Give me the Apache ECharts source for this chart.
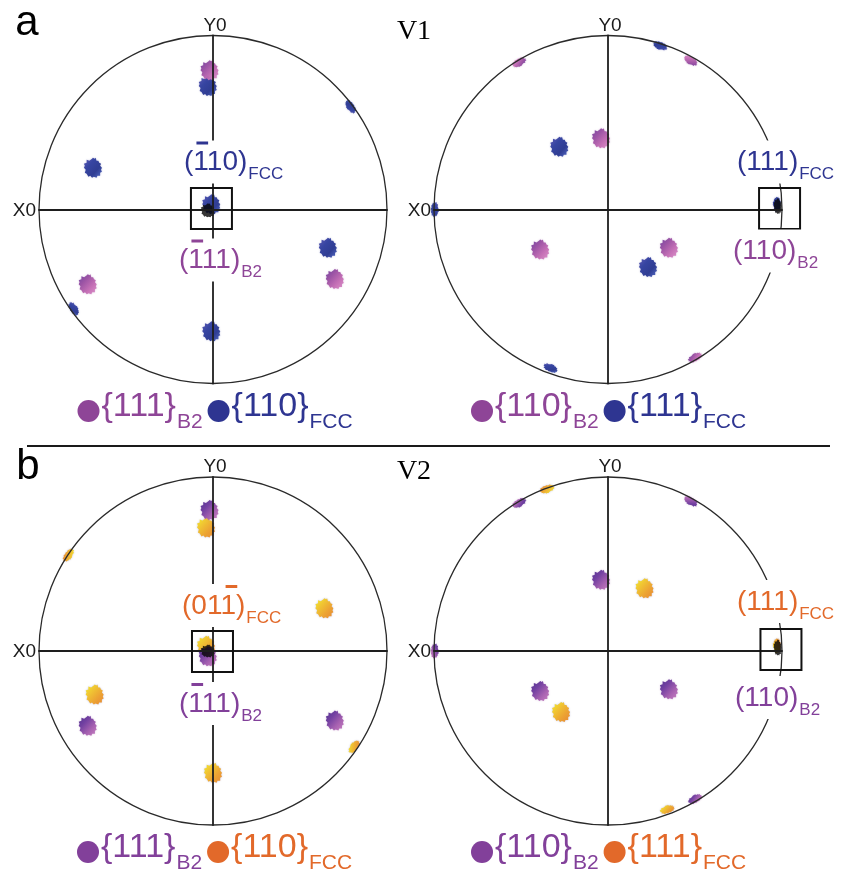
<!DOCTYPE html>
<html>
<head>
<meta charset="utf-8">
<script src="https://cdn.jsdelivr.net/npm/echarts@6/dist/echarts.min.js"></script>
<style>
  html, body { margin: 0; padding: 0; background: #fff; }
  #chart { width: 842px; height: 875px; }
</style>
</head>
<body>
<div id="chart"></div>
<script>
// Pole positions in stereographic units (projection circle radius = 1), [x, y]

// (a) V1 — {111}B2 / {110}FCC pole figure
const aLeftB2 = [[-0.02, 0.80], [0.70, -0.40], [-0.72, -0.43]];
const aLeftFcc = [[-0.03, 0.71], [0.79, 0.59], [-0.69, 0.24], [-0.01, 0.03], [0.66, -0.22], [-0.80, -0.57], [-0.01, -0.70]];
const aLeftCore = [[-0.03, -0.005]];

// (a) V1 — {110}B2 / {111}FCC pole figure
const aRightB2 = [[0.475, 0.855], [-0.51, 0.845], [-0.04, 0.41], [-0.39, -0.23], [0.35, -0.22], [0.50, -0.85]];
const aRightFcc = [[0.30, 0.94], [-0.28, 0.36], [-0.995, 0.0], [0.23, -0.33], [-0.33, -0.91], [0.97, 0.03]];
const aRightCore = [[0.975, 0.02]];

// (b) V2 — {111}B2 / {110}FCC pole figure
const bLeftB2 = [[-0.02, 0.81], [-0.72, -0.43], [0.70, -0.40], [-0.03, -0.03]];
const bLeftFcc = [[-0.04, 0.71], [-0.83, 0.55], [0.64, 0.245], [-0.68, -0.25], [0.81, -0.55], [0.0, -0.70], [-0.04, 0.03]];
const bLeftCore = [[-0.03, 0.0]];

// (b) V2 — {110}B2 / {111}FCC pole figure
const bRightB2 = [[-0.51, 0.85], [0.475, 0.86], [-0.04, 0.41], [-0.995, 0.0], [-0.39, -0.23], [0.35, -0.22], [0.50, -0.85]];
const bRightFcc = [[-0.35, 0.93], [0.21, 0.36], [-0.27, -0.35], [0.34, -0.91], [0.97, 0.03]];
const bRightCore = [[0.975, 0.02]];

// Highlighted parallel poles (boxed), in stereographic units
const boxCenters = [[-0.009, 0.006], [0.986, 0.006], [-0.003, -0.003], [0.994, 0.009]];

// Legend entries: [text, subscript] per phase
const legendA1 = [['{111}', 'B2'], ['{110}', 'FCC']];
const legendA2 = [['{110}', 'B2'], ['{111}', 'FCC']];
const legendB1 = [['{111}', 'B2'], ['{110}', 'FCC']];
const legendB2 = [['{110}', 'B2'], ['{111}', 'FCC']];

// Plane annotations: main text, subscript, indices of barred digits
const planeA1 = [['(110)', 'FCC', [1]], ['(111)', 'B2', [1]]];
const planeA2 = [['(111)', 'FCC', []], ['(110)', 'B2', []]];
const planeB1 = [['(011)', 'FCC', [3]], ['(111)', 'B2', [1]]];
const planeB2 = [['(111)', 'FCC', []], ['(110)', 'B2', []]];

const FONT = '"Liberation Sans", Arial, Helvetica, sans-serif';
const R = 174;
const BLUE = '#2e3591', PURPLE = '#8e4597', VIOLET = '#82409a', ORANGE = '#e2692a';

const grad = (stops) => new echarts.graphic.LinearGradient(0, 0, 1, 1,
  stops.map((c, i) => ({ offset: i / (stops.length - 1), color: c })));

const fillBlue = () => grad(['#5a55b4', '#2f3e9e', '#28368f', '#4d66c4']);
const fillPurple = () => grad(['#6c3c9e', '#9a4fa2', '#c46cb4', '#dc90c8']);
const fillYellow = () => grad(['#f4ee20', '#f2c42a', '#eea02a', '#e8862c']);
const fillViolet = () => grad(['#4a2a8e', '#6e3a9e', '#a45cae', '#c87cc0']);

// ragged outline for a cluster of pole hits
const BLOB = 'path://M9,1 L10,0 L12,1 L13,0 L14,3 L16,3 L17,5 L19,6 L18,8 L20,10 L19,12 L20,14 L18,15 L18,18 L15,18 L14,20 L11,19 L9,20 L7,18 L5,19 L3,16 L1,15 L2,12 L0,10 L1,8 L0,6 L3,5 L3,2 L6,3 Z';

const panels = [
  { c: [213, 209.5], b2: aLeftB2, fcc: aLeftFcc, core: aLeftCore, b2Fill: fillPurple, fccFill: fillBlue,
    coreSize: [14, 14], b2Color: PURPLE, fccColor: BLUE, legend: legendA1, planes: planeA1,
    planePos: [[-29, -47], [-34, 51]], legendPos: [88.5, 410] },
  { c: [608, 209.5], b2: aRightB2, fcc: aRightFcc, core: aRightCore, b2Fill: fillPurple, fccFill: fillBlue,
    coreSize: [8, 16], b2Color: PURPLE, fccColor: BLUE, legend: legendA2, planes: planeA2,
    planePos: [[129, -47], [125, 42]], legendPos: [482, 410] },
  { c: [213, 651], b2: bLeftB2, fcc: bLeftFcc, core: bLeftCore, b2Fill: fillViolet, fccFill: fillYellow,
    coreSize: [14, 13], b2Color: VIOLET, fccColor: ORANGE, legend: legendB1, planes: planeB1,
    planePos: [[-31, -45], [-34, 53]], legendPos: [88, 851] },
  { c: [608, 651], b2: bRightB2, fcc: bRightFcc, core: bRightCore, b2Fill: fillViolet, fccFill: fillYellow,
    coreSize: [8, 16], b2Color: VIOLET, fccColor: ORANGE, legend: legendB2, planes: planeB2,
    planePos: [[129, -49], [127, 47]], legendPos: [482, 851] }
];

const chart = echarts.init(document.getElementById('chart'), null, { renderer: 'canvas' });

const grids = [], xAxes = [], yAxes = [], series = [];
const axisLine = { show: true, onZero: true, lineStyle: { color: '#1e1e1e', width: 1.8 } };

function poleItems(points) {
  return points.map((p) => {
    const r = Math.hypot(p[0], p[1]);
    const edge = r > 0.93;
    return {
      value: p,
      symbolSize: edge ? [15, 8] : [18, 20],
      symbolRotate: edge ? Math.atan2(p[1], p[0]) * 180 / Math.PI + 90 : 0
    };
  });
}

panels.forEach((pn, i) => {
  grids.push({ left: pn.c[0] - R, top: pn.c[1] - R, width: 2 * R, height: 2 * R });
  const ax = {
    gridIndex: i, type: 'value', min: -1, max: 1, z: 5,
    axisLine, axisTick: { show: false }, axisLabel: { show: false }, splitLine: { show: false }
  };
  xAxes.push(Object.assign({}, ax));
  yAxes.push(Object.assign({}, ax));
  series.push({
    type: 'scatter', xAxisIndex: i, yAxisIndex: i, symbol: BLOB, z: 2,
    itemStyle: { color: pn.fccFill(), opacity: 0.95, shadowBlur: 2, shadowColor: 'rgba(80,80,160,0.35)' },
    data: poleItems(pn.fcc), silent: true
  });
  series.push({
    type: 'scatter', xAxisIndex: i, yAxisIndex: i, symbol: BLOB, z: 2,
    itemStyle: { color: pn.b2Fill(), opacity: 0.95, shadowBlur: 2, shadowColor: 'rgba(150,80,160,0.35)' },
    data: poleItems(pn.b2), silent: true
  });
  series.push({
    type: 'scatter', xAxisIndex: i, yAxisIndex: i, symbol: BLOB, z: 3, symbolSize: pn.coreSize,
    itemStyle: { color: '#050505' }, data: pn.core, silent: true
  });
});

chart.setOption({
  animation: false,
  backgroundColor: '#ffffff',
  grid: grids, xAxis: xAxes, yAxis: yAxes, series
});

// ---- overlay: projection circles, labels, legends ----
const measureCtx = document.createElement('canvas').getContext('2d');
function textWidth(t, size, family) {
  measureCtx.font = size + 'px ' + (family || FONT);
  return measureCtx.measureText(t).width;
}
function txt(t, x, y, size, color, align, family, z) {
  return {
    type: 'text', z: z || 60, silent: true,
    style: {
      text: t, x, y, fill: color, fontSize: size, fontFamily: family || FONT,
      textAlign: align || 'left', textVerticalAlign: 'middle', align: align || 'left', verticalAlign: 'middle'
    }
  };
}

const gfx = [];
panels.forEach((pn, i) => {
  const o = chart.convertToPixel({ gridIndex: i }, [0, 0]);
  const e = chart.convertToPixel({ gridIndex: i }, [1, 1]);
  const rad = e[0] - o[0];
  // primitive circle
  gfx.push({ type: 'circle', z: 4, silent: true, shape: { cx: o[0], cy: o[1], r: rad },
    style: { fill: 'none', stroke: '#2a2a2a', lineWidth: 1.3 } });
  // axis labels
  gfx.push(txt('Y0', o[0] + 2, o[1] - rad - 10, 19, '#1a1a1a', 'center'));
  gfx.push(txt('X0', o[0] - rad - 3, o[1] + 1, 19, '#1a1a1a', 'right'));
  // highlight box
  const b = chart.convertToPixel({ gridIndex: i }, boxCenters[i]);
  gfx.push({ type: 'rect', z: 20, silent: true, shape: { x: b[0] - 20.5, y: b[1] - 20.5, width: 41, height: 41 },
    style: { fill: 'none', stroke: '#111', lineWidth: 2 } });
  // plane annotations
  pn.planes.forEach((pl, k) => {
    const color = k === 0 ? pn.fccColor : pn.b2Color;
    const x = o[0] + pn.planePos[k][0];
    const y = o[1] + pn.planePos[k][1];
    const ms = 28, ss = 17;
    const mw = textWidth(pl[0], ms), sw = textWidth(pl[1], ss);
    gfx.push({ type: 'rect', z: 50, silent: true,
      shape: { x: x - 3, y: y - 22, width: mw + sw + 6, height: 43 }, style: { fill: '#fff' } });
    gfx.push(txt(pl[0], x, y, ms, color));
    gfx.push(txt(pl[1], x + mw + 1, y + 12, ss, color));
    pl[2].forEach((ci) => {
      const cx0 = x + textWidth(pl[0].slice(0, ci), ms);
      const cw = textWidth(pl[0][ci], ms);
      gfx.push({ type: 'rect', z: 61, silent: true,
        shape: { x: cx0 + cw * 0.2, y: y - 21, width: cw * 0.75, height: 3 }, style: { fill: color } });
    });
  });
  // legend
  let lx = pn.legendPos[0];
  const ly = pn.legendPos[1];
  pn.legend.forEach((lg, k) => {
    const color = k === 0 ? pn.b2Color : pn.fccColor;
    const dotX = k === 0 ? lx : lx + 15;
    gfx.push({ type: 'circle', z: 60, silent: true, shape: { cx: dotX, cy: ly + 1, r: 11 }, style: { fill: color } });
    let tx = dotX + 13;
    gfx.push(txt(lg[0], tx, ly - 3, 34, color));
    tx += textWidth(lg[0], 34) + 1;
    gfx.push(txt(lg[1], tx, ly + 12, 21, color));
    lx = tx + textWidth(lg[1], 21) + 1;
  });
});

// panel letters, variant names, divider
gfx.push(txt('a', 27, 23, 42, '#000', 'center'));
gfx.push(txt('b', 28, 467, 42, '#000', 'center'));
gfx.push(txt('V1', 414, 32, 28, '#000', 'center', '"Liberation Serif", "Times New Roman", serif'));
gfx.push(txt('V2', 414, 472, 28, '#000', 'center', '"Liberation Serif", "Times New Roman", serif'));
gfx.push({ type: 'line', z: 10, silent: true, shape: { x1: 27, y1: 446, x2: 830, y2: 446 },
  style: { stroke: '#1a1a1a', lineWidth: 2 } });

chart.setOption({ graphic: { elements: gfx } });
</script>
</body>
</html>
